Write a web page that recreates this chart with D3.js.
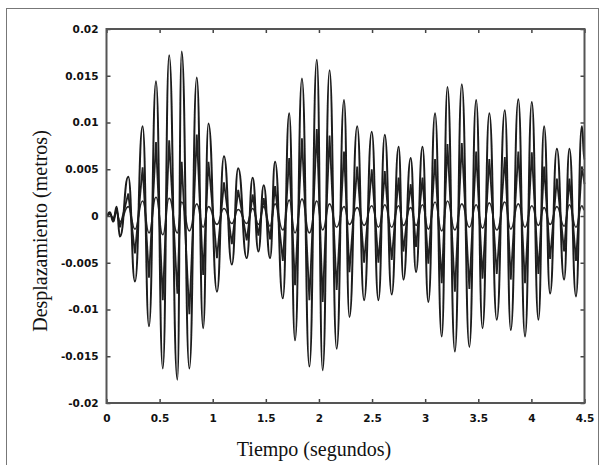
<!DOCTYPE html>
<html>
<head>
<meta charset="utf-8">
<script src="https://cdn.jsdelivr.net/npm/d3@7"></script>
<style>
  body { margin: 0; background: #fff; }
  svg { display: block; }
</style>
</head>
<body>
<div id="chart"></div>
<script>
// instantes de los picos y valles (s)
var tiempo = [0.000, 0.030, 0.065, 0.095, 0.127, 0.205, 0.268, 0.340, 0.400, 0.466,
              0.530, 0.590, 0.667, 0.708, 0.780, 0.850, 0.910, 0.960, 1.040, 1.106,
              1.180, 1.240, 1.320, 1.376, 1.430, 1.480, 1.540, 1.587, 1.660, 1.720,
              1.775, 1.840, 1.910, 1.980, 2.035, 2.100, 2.167, 2.236, 2.287, 2.360,
              2.425, 2.497, 2.560, 2.620, 2.685, 2.750, 2.795, 2.864, 2.914, 2.975,
              3.030, 3.093, 3.156, 3.210, 3.280, 3.345, 3.416, 3.480, 3.540, 3.604,
              3.674, 3.750, 3.806, 3.877, 3.940, 4.004, 4.066, 4.120, 4.176, 4.240,
              4.308, 4.358, 4.420, 4.475, 4.500];

// desplazamientos (m)
var piso3 = [0, 0.0004, -0.0006, 0.0010, -0.0022, 0.0042, -0.0070, 0.0096, -0.0118, 0.0144,
             -0.0163, 0.0172, -0.0175, 0.0176, -0.0163, 0.0148, -0.0120, 0.0099, -0.0081, 0.0064,
             -0.0052, 0.0051, -0.0045, 0.0041, -0.0038, 0.0033, -0.0045, 0.0058, -0.0088, 0.0110,
             -0.0133, 0.0147, -0.0161, 0.0167, -0.0165, 0.0156, -0.0142, 0.0124, -0.0108, 0.0096,
             -0.0090, 0.0090, -0.0090, 0.0087, -0.0084, 0.0074, -0.0068, 0.0062, -0.0060, 0.0074,
             -0.0092, 0.0110, -0.0129, 0.0138, -0.0145, 0.0141, -0.0140, 0.0124, -0.0120, 0.0110,
             -0.0111, 0.0113, -0.0122, 0.0125, -0.0129, 0.0122, -0.0111, 0.0096, -0.0083, 0.0072,
             -0.0068, 0.0072, -0.0086, 0.0096, 0.0060];

var piso2 = [0, 0.0003, -0.0004, 0.0008, -0.0012, 0.0024, -0.0040, 0.0052, -0.0066, 0.0079,
             -0.0090, 0.0081, -0.0083, 0.0058, -0.0105, 0.0087, -0.0063, 0.0058, -0.0045, 0.0036,
             -0.0030, 0.0028, -0.0026, 0.0023, -0.0021, 0.0019, -0.0025, 0.0032, -0.0048, 0.0062,
             -0.0074, 0.0083, -0.0090, 0.0093, -0.0092, 0.0086, -0.0079, 0.0069, -0.0060, 0.0053,
             -0.0050, 0.0050, -0.0050, 0.0048, -0.0047, 0.0041, -0.0038, 0.0034, -0.0033, 0.0041,
             -0.0051, 0.0061, -0.0072, 0.0077, -0.0081, 0.0078, -0.0078, 0.0069, -0.0067, 0.0061,
             -0.0062, 0.0063, -0.0068, 0.0069, -0.0072, 0.0068, -0.0062, 0.0053, -0.0046, 0.0040,
             -0.0038, 0.0040, -0.0048, 0.0053, 0.0034];

var piso1 = [0, 0.0002, -0.0003, 0.0004, -0.0006, 0.0010, -0.0014, 0.0016, -0.0018, 0.0020,
             -0.0020, 0.0019, -0.0018, 0.0015, -0.0016, 0.0013, -0.0012, 0.0010, -0.0009, 0.0008,
             -0.0008, 0.0007, -0.0008, 0.0008, -0.0009, 0.0010, -0.0011, 0.0013, -0.0015, 0.0017,
             -0.0018, 0.0018, -0.0018, 0.0016, -0.0015, 0.0013, -0.0012, 0.0010, -0.0009, 0.0009,
             -0.0010, 0.0011, -0.0012, 0.0012, -0.0012, 0.0011, -0.0010, 0.0009, -0.0010, 0.0012,
             -0.0014, 0.0015, -0.0016, 0.0016, -0.0015, 0.0013, -0.0012, 0.0012, -0.0013, 0.0014,
             -0.0015, 0.0015, -0.0014, 0.0013, -0.0012, 0.0011, -0.0010, 0.0009, -0.0009, 0.0010,
             -0.0011, 0.0012, -0.0012, 0.0011, 0.0006];

var xTicks = [0, 0.5, 1, 1.5, 2, 2.5, 3, 3.5, 4, 4.5];
var yTicks = [-0.02, -0.015, -0.01, -0.005, 0, 0.005, 0.01, 0.015, 0.02];

var width = 605, height = 465;
var margin = {left: 106.5, right: 20.5, top: 29, bottom: 62};

var svg = d3.select("#chart").append("svg")
    .attr("width", width)
    .attr("height", height);

// suavizado leve, la figura original es un escaneo
var defs = svg.append("defs");
defs.append("filter").attr("id", "scan")
    .append("feGaussianBlur").attr("stdDeviation", 0.45);

// marco exterior de la figura
svg.append("rect")
    .attr("x", 6.5).attr("y", 8.5)
    .attr("width", 592).attr("height", 470)
    .style("fill", "none").style("stroke", "#777").style("stroke-width", 1);

var x = d3.scaleLinear().domain([0, 4.5]).range([margin.left, width - margin.right]);
var y = d3.scaleLinear().domain([-0.02, 0.02]).range([height - margin.bottom, margin.top]);

var series = [
    {name: "piso1", values: piso1, color: "#2a2a2a", w: 1.6, curve: d3.curveBumpX},
    {name: "piso2", values: piso2, color: "#222", w: 1.8, curve: d3.curveLinear},
    {name: "piso3", values: piso3, color: "#1a1a1a", w: 2.0, curve: d3.curveBumpX}
];

var plot = svg.append("g").attr("filter", "url(#scan)");
series.forEach(function (s) {
    var pts = tiempo.map(function (t, i) { return [t, s.values[i]]; })
        .filter(function (d) { return d[1] !== undefined; });
    var line = d3.line()
        .curve(s.curve)
        .x(function (d) { return x(d[0]); })
        .y(function (d) { return y(d[1]); });
    plot.append("path")
        .datum(pts)
        .attr("class", s.name)
        .attr("d", line)
        .style("fill", "none")
        .style("stroke", s.color)
        .style("stroke-width", s.w)
        .style("stroke-linejoin", "miter");
});

// ejes estilo matlab, marcas hacia dentro en los cuatro lados
var fmt = function (d) { return d === 0 ? "0" : String(d); };
var tickStyle = function (g) {
    g.select(".domain").remove();
    g.selectAll(".tick line").style("stroke", "#444").style("stroke-width", 1.5);
    g.selectAll(".tick text")
        .style("font-family", "'DejaVu Sans', sans-serif")
        .style("font-size", "10.5px")
        .style("font-weight", "bold")
        .style("fill", "#111");
};

svg.append("g")
    .attr("transform", "translate(0," + y(-0.02) + ")")
    .call(d3.axisBottom(x).tickValues(xTicks).tickFormat(fmt).tickSizeInner(-4).tickPadding(12))
    .call(tickStyle);
svg.append("g")
    .attr("transform", "translate(0," + y(0.02) + ")")
    .call(d3.axisTop(x).tickValues(xTicks).tickFormat("").tickSizeInner(-4))
    .call(tickStyle);
svg.append("g")
    .attr("transform", "translate(" + x(0) + ",0)")
    .call(d3.axisLeft(y).tickValues(yTicks).tickFormat(fmt).tickSizeInner(-4).tickPadding(8))
    .call(tickStyle);
svg.append("g")
    .attr("transform", "translate(" + x(4.5) + ",0)")
    .call(d3.axisRight(y).tickValues(yTicks).tickFormat("").tickSizeInner(-4))
    .call(tickStyle);

// caja del area de trazado
svg.append("rect")
    .attr("x", x(0)).attr("y", y(0.02))
    .attr("width", x(4.5) - x(0)).attr("height", y(-0.02) - y(0.02))
    .style("fill", "none").style("stroke", "#555").style("stroke-width", 2);

svg.append("text")
    .attr("x", 314)
    .attr("y", 456)
    .attr("text-anchor", "middle")
    .style("font-family", "'Liberation Serif', 'DejaVu Serif', serif")
    .style("font-size", "20px")
    .style("fill", "#111")
    .text("Tiempo (segundos)");

svg.append("text")
    .attr("transform", "translate(47,231) rotate(-90)")
    .attr("text-anchor", "middle")
    .style("font-family", "'Liberation Serif', 'DejaVu Serif', serif")
    .style("font-size", "20px")
    .style("fill", "#111")
    .text("Desplazamiento (metros)");
</script>
</body>
</html>
